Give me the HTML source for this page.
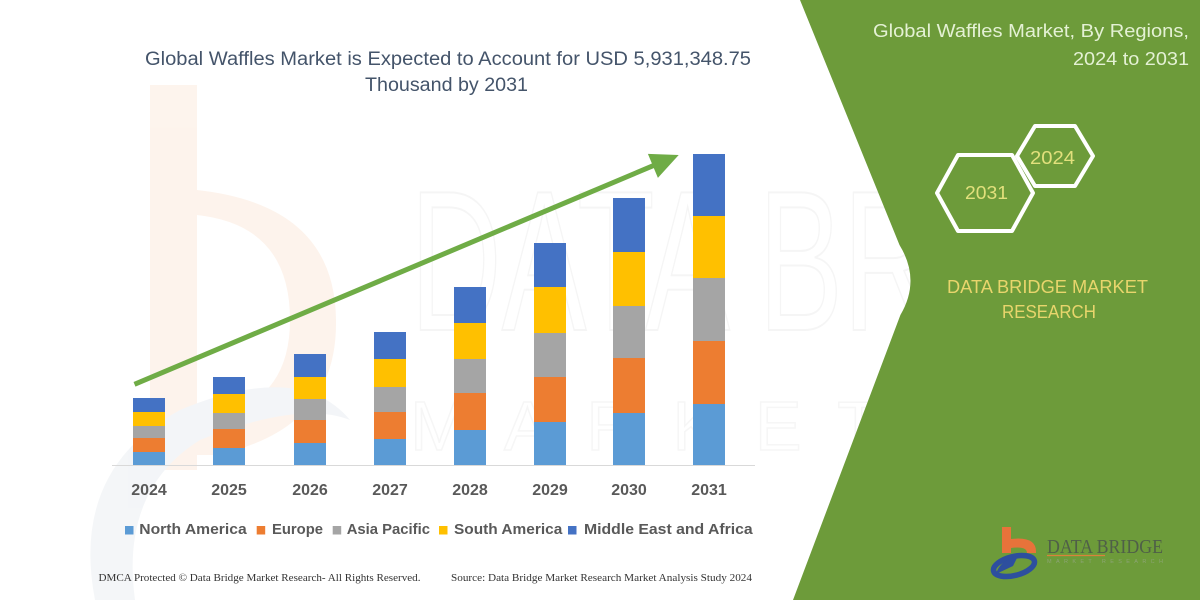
<!DOCTYPE html>
<html>
<head>
<meta charset="utf-8">
<style>
  html,body{margin:0;padding:0;background:#fff;}
  svg{display:block;}
  text{font-family:"Liberation Sans",sans-serif;}
  .serif{font-family:"Liberation Serif",serif;}
</style>
</head>
<body>
<svg width="1200" height="600" viewBox="0 0 1200 600" xmlns="http://www.w3.org/2000/svg">
  <rect x="0" y="0" width="1200" height="600" fill="#ffffff"/>

  <!-- faint background watermark (logo "b") -->
  <g opacity="0.45">
    <path d="M150,85 H197 V190 Q335,205 336,320 Q338,430 215,455 L197,455 V470 H150 Z" fill="#fbe6d6"/>
    <path d="M197,215 Q290,225 290,320 Q290,410 197,420 Z" fill="#ffffff"/>
    <path d="M95,600 Q70,470 180,410 Q300,360 350,420 Q300,400 200,440 Q120,490 135,600 Z" fill="#e6eaf0"/>
  </g>
  <!-- faint DATA BRIDGE watermark text -->
  <text x="410" y="330" font-size="200" fill="none" stroke="#f5f5f5" stroke-width="2" textLength="560" lengthAdjust="spacingAndGlyphs">DATA BRI</text>
  <text x="410" y="450" font-size="70" fill="none" stroke="#f6f6f6" stroke-width="1.5" textLength="470" lengthAdjust="spacing">MARKET</text>

  <!-- green panel -->
  <path d="M800,0 L899.5,245 Q921,280 900.4,315 L793,600 L1200,600 L1200,0 Z" fill="#6d9b3a"/>

  <!-- title -->
  <text x="145" y="65" font-size="19" fill="#44546a" textLength="606" lengthAdjust="spacingAndGlyphs">Global Waffles Market is Expected to Account for USD 5,931,348.75</text>
  <text x="365" y="91" font-size="19" fill="#44546a" textLength="163" lengthAdjust="spacingAndGlyphs">Thousand by 2031</text>

  <!-- axis line -->
  <line x1="112" y1="465.5" x2="755" y2="465.5" stroke="#d9d9d9" stroke-width="1"/>

  <!-- bars -->
  <g>
    <rect x="133" y="398" width="32" height="14" fill="#4472c4"/>
    <rect x="133" y="412" width="32" height="14" fill="#ffc000"/>
    <rect x="133" y="426" width="32" height="12" fill="#a5a5a5"/>
    <rect x="133" y="438" width="32" height="14" fill="#ed7d31"/>
    <rect x="133" y="452" width="32" height="13" fill="#5b9bd5"/>

    <rect x="213" y="377" width="32" height="17" fill="#4472c4"/>
    <rect x="213" y="394" width="32" height="19" fill="#ffc000"/>
    <rect x="213" y="413" width="32" height="16" fill="#a5a5a5"/>
    <rect x="213" y="429" width="32" height="19" fill="#ed7d31"/>
    <rect x="213" y="448" width="32" height="17" fill="#5b9bd5"/>

    <rect x="294" y="354" width="32" height="23" fill="#4472c4"/>
    <rect x="294" y="377" width="32" height="22" fill="#ffc000"/>
    <rect x="294" y="399" width="32" height="21" fill="#a5a5a5"/>
    <rect x="294" y="420" width="32" height="23" fill="#ed7d31"/>
    <rect x="294" y="443" width="32" height="22" fill="#5b9bd5"/>

    <rect x="374" y="332" width="32" height="27" fill="#4472c4"/>
    <rect x="374" y="359" width="32" height="28" fill="#ffc000"/>
    <rect x="374" y="387" width="32" height="25" fill="#a5a5a5"/>
    <rect x="374" y="412" width="32" height="27" fill="#ed7d31"/>
    <rect x="374" y="439" width="32" height="26" fill="#5b9bd5"/>

    <rect x="454" y="287" width="32" height="36" fill="#4472c4"/>
    <rect x="454" y="323" width="32" height="36" fill="#ffc000"/>
    <rect x="454" y="359" width="32" height="34" fill="#a5a5a5"/>
    <rect x="454" y="393" width="32" height="37" fill="#ed7d31"/>
    <rect x="454" y="430" width="32" height="35" fill="#5b9bd5"/>

    <rect x="534" y="243" width="32" height="44" fill="#4472c4"/>
    <rect x="534" y="287" width="32" height="46" fill="#ffc000"/>
    <rect x="534" y="333" width="32" height="44" fill="#a5a5a5"/>
    <rect x="534" y="377" width="32" height="45" fill="#ed7d31"/>
    <rect x="534" y="422" width="32" height="43" fill="#5b9bd5"/>

    <rect x="613" y="198" width="32" height="54" fill="#4472c4"/>
    <rect x="613" y="252" width="32" height="54" fill="#ffc000"/>
    <rect x="613" y="306" width="32" height="52" fill="#a5a5a5"/>
    <rect x="613" y="358" width="32" height="55" fill="#ed7d31"/>
    <rect x="613" y="413" width="32" height="52" fill="#5b9bd5"/>

    <rect x="693" y="154" width="32" height="62" fill="#4472c4"/>
    <rect x="693" y="216" width="32" height="62" fill="#ffc000"/>
    <rect x="693" y="278" width="32" height="63" fill="#a5a5a5"/>
    <rect x="693" y="341" width="32" height="63" fill="#ed7d31"/>
    <rect x="693" y="404" width="32" height="61" fill="#5b9bd5"/>
  </g>

  <!-- arrow -->
  <line x1="134.5" y1="384.3" x2="660" y2="162.8" stroke="#6fac46" stroke-width="5"/>
  <polygon points="678.7,155 657.9,177.9 647.9,153.9" fill="#6fac46"/>

  <!-- year labels -->
  <g font-size="16" font-weight="bold" fill="#595959" text-anchor="middle">
    <text x="149" y="495">2024</text>
    <text x="229" y="495">2025</text>
    <text x="310" y="495">2026</text>
    <text x="390" y="495">2027</text>
    <text x="470" y="495">2028</text>
    <text x="550" y="495">2029</text>
    <text x="629" y="495">2030</text>
    <text x="709" y="495">2031</text>
  </g>

  <!-- legend -->
  <g font-size="15" font-weight="bold" fill="#595959">
    <rect x="125" y="526" width="8.5" height="8.5" fill="#5b9bd5"/>
    <text x="139.3" y="534" textLength="107.4" lengthAdjust="spacingAndGlyphs">North America</text>
    <rect x="256.7" y="526" width="8.5" height="8.5" fill="#ed7d31"/>
    <text x="272" y="534" textLength="51" lengthAdjust="spacingAndGlyphs">Europe</text>
    <rect x="332.7" y="526" width="8.5" height="8.5" fill="#a5a5a5"/>
    <text x="346.7" y="534" textLength="83.3" lengthAdjust="spacingAndGlyphs">Asia Pacific</text>
    <rect x="439" y="526" width="8.5" height="8.5" fill="#ffc000"/>
    <text x="454" y="534" textLength="108.3" lengthAdjust="spacingAndGlyphs">South America</text>
    <rect x="568" y="526" width="8.5" height="8.5" fill="#4472c4"/>
    <text x="584" y="534" textLength="168.7" lengthAdjust="spacingAndGlyphs">Middle East and Africa</text>
  </g>

  <!-- footer -->
  <g font-size="11" fill="#333333">
    <text class="serif" x="98.5" y="581" textLength="322" lengthAdjust="spacingAndGlyphs">DMCA Protected © Data Bridge Market Research-  All Rights Reserved.</text>
    <text class="serif" x="451" y="581" textLength="301" lengthAdjust="spacingAndGlyphs">Source: Data Bridge Market Research  Market Analysis Study 2024</text>
  </g>

  <!-- right panel title -->
  <text x="873" y="37" font-size="18" fill="#e4f1d4" textLength="316" lengthAdjust="spacingAndGlyphs">Global Waffles Market, By Regions,</text>
  <text x="1073" y="65" font-size="18" fill="#e4f1d4" textLength="116" lengthAdjust="spacingAndGlyphs">2024 to 2031</text>

  <!-- hexagons -->
  <polygon points="937,193 958,155 1012,155 1033,193 1012,231 958,231" fill="none" stroke="#ffffff" stroke-width="4" stroke-linejoin="round"/>
  <polygon points="1017,156 1035,126 1075,126 1093,156 1075,186 1035,186" fill="none" stroke="#ffffff" stroke-width="4" stroke-linejoin="round"/>
  <text x="965" y="199" font-size="18" fill="#e2e07c" textLength="43" lengthAdjust="spacingAndGlyphs">2031</text>
  <text x="1030" y="164" font-size="18" fill="#e2e07c" textLength="45" lengthAdjust="spacingAndGlyphs">2024</text>

  <!-- DATA BRIDGE MARKET RESEARCH -->
  <text x="947" y="293" font-size="18.5" fill="#e8d56c" textLength="201" lengthAdjust="spacingAndGlyphs">DATA BRIDGE MARKET</text>
  <text x="1002" y="318" font-size="18.5" fill="#e8d56c" textLength="94" lengthAdjust="spacingAndGlyphs">RESEARCH</text>

  <!-- logo bottom right -->
  <g>
    <rect x="1002" y="527" width="9" height="26" fill="#e8733a"/>
    <path d="M1011,539 Q1037,536 1036,553 L1027,553 Q1027,546 1011,548 Z" fill="#e8733a"/>
    <ellipse cx="1014" cy="566" rx="21" ry="9.5" transform="rotate(-14 1014 566)" fill="none" stroke="#2d4f9e" stroke-width="5.5"/>
    <path d="M996,574 Q1000,560 1018,556 L1013,566 Z" fill="#2d4f9e"/>
    <text class="serif" x="1047" y="553" font-size="20" fill="#4f5f48" textLength="116" lengthAdjust="spacingAndGlyphs">DATA BRIDGE</text>
    <line x1="1047" y1="555.5" x2="1105" y2="555.5" stroke="#d9823b" stroke-width="1.2"/>
    <text x="1047" y="563" font-size="5.5" fill="#8ca474" textLength="116" lengthAdjust="spacing">MARKET RESEARCH</text>
  </g>
</svg>
</body>
</html>
